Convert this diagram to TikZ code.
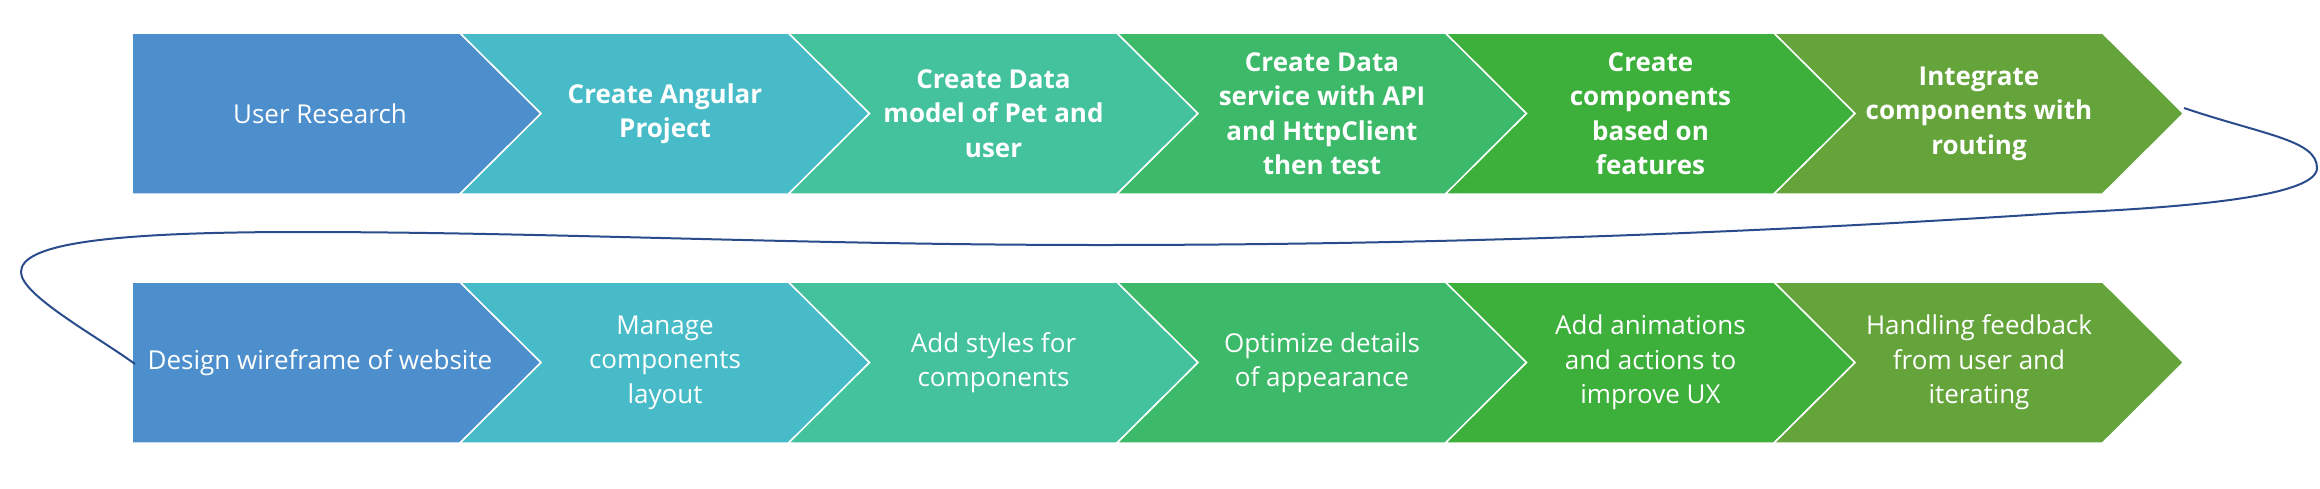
\documentclass[tikz,border=0pt]{standalone}
\usepackage{fontspec}
\setmainfont{Open Sans}
\definecolor{c1}{HTML}{4D8FCC}
\definecolor{c2}{HTML}{47BBC7}
\definecolor{c3}{HTML}{43C29D}
\definecolor{c4}{HTML}{3DB96A}
\definecolor{c5}{HTML}{3CB03A}
\definecolor{c6}{HTML}{64A43B}
\definecolor{linkblue}{HTML}{2B4C8C}
\begin{document}
\begin{tikzpicture}[x=0.5pt,y=-0.5pt,
  chev/.style={draw=white,line width=0.75pt,line join=miter},
  lbl/.style={text=white,align=center,inner sep=0pt,font=\fontsize{13}{17.25}\selectfont},
  blbl/.style={text=white,align=center,inner sep=0pt,font=\fontsize{13}{17.25}\selectfont\bfseries},
  link/.style={draw=linkblue,line width=1pt}]
\useasboundingbox (0,0) rectangle (2320,488);
% chevrons, both rows
\foreach \yt/\yb/\ym in {33/194/113.5, 282/443/362.5}{
  \fill[c1,chev] (132,\yt) -- (460,\yt) -- (541,\ym) -- (460,\yb) -- (132,\yb) -- cycle;
  \foreach \k/\col in {2/c2,3/c3,4/c4,5/c5,6/c6}{
    \pgfmathsetmacro{\N}{460+(\k-2)*328.5}
    \pgfmathsetmacro{\E}{\N+328.5}
    \fill[\col,chev] (\N,\yt) -- (\E,\yt) -- (\E+81,\ym) -- (\E,\yb) -- (\N,\yb) -- (\N+81,\ym) -- cycle;
  }
}
% row 1 labels
\node[lbl]  (a1) at (320,113.5) {User Research};
\node[blbl] (a2) at (665,113.5) {Create Angular\\Project};
\node[blbl] (a3) at (993.5,113.5) {Create Data\\model of Pet and\\user};
\node[blbl] (a4) at (1322,113.5) {Create Data\\service with API\\and HttpClient\\then test};
\node[blbl] (a5) at (1650.5,113.5) {Create\\components\\based on\\features};
\node[blbl] (a6) at (1979,113.5) {Integrate\\components with\\routing};
% row 2 labels
\node[lbl] (b1) at (320,362.5) {Design wireframe of website};
\node[lbl] (b2) at (665,362.5) {Manage\\components\\layout};
\node[lbl] (b3) at (993.5,362.5) {Add styles for\\components};
\node[lbl] (b4) at (1322,362.5) {Optimize details\\of appearance};
\node[lbl] (b5) at (1650.5,362.5) {Add animations\\and actions to\\improve UX};
\node[lbl] (b6) at (1979,362.5) {Handling feedback\\from user and\\iterating};
% connector
\coordinate (loopstart) at (2184,108);
\coordinate (loopend) at (135,364);
\draw[link] (loopstart) .. controls (2264,135) and (2317,140) .. (2317,168)
  .. controls (2317,195) and (2200,207) .. (2060,213)
  .. controls (1740,234) and (1420,245) .. (1100,245)
  .. controls (800,245) and (550,232) .. (300,232)
  .. controls (100,232) and (21,245) .. (21,272)
  .. controls (21,295) and (95,335) .. (loopend);
\end{tikzpicture}
\end{document}
